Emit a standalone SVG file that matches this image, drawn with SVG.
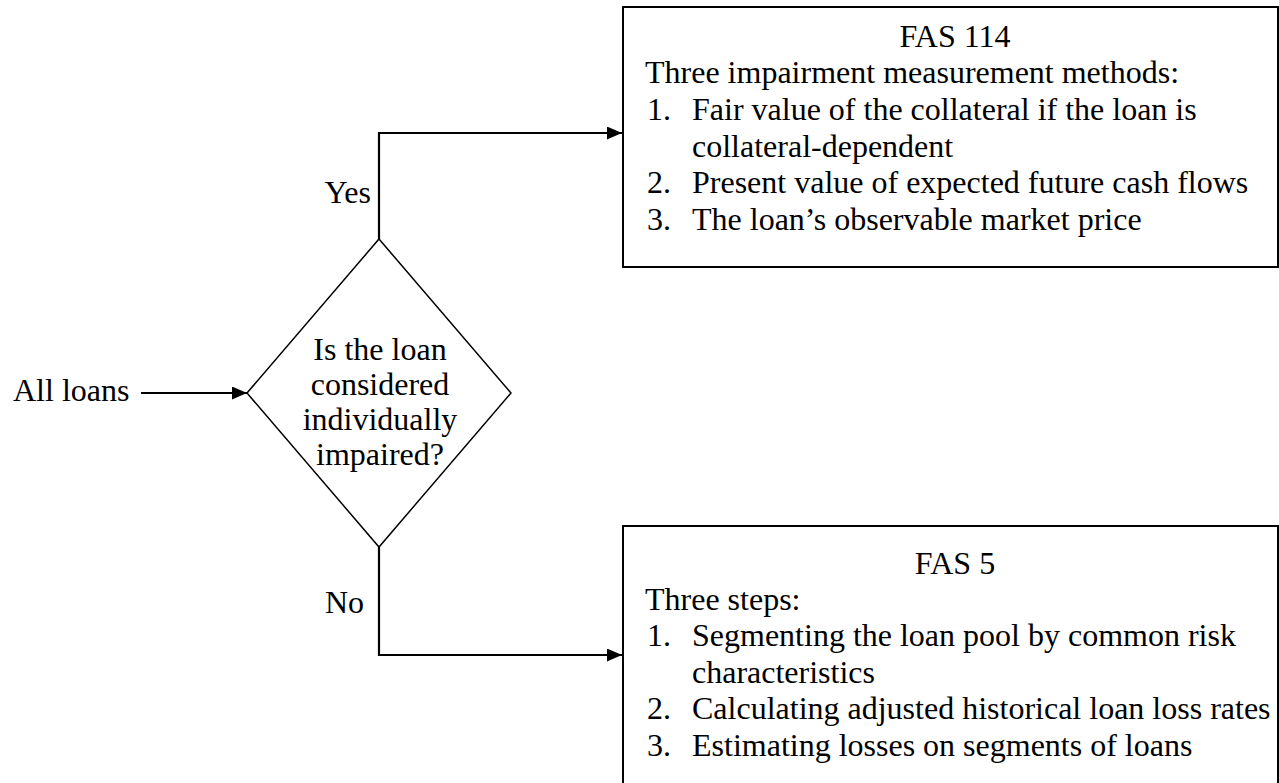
<svg xmlns="http://www.w3.org/2000/svg" width="1279" height="783" viewBox="0 0 1279 783">
<style>
text{font-family:"Liberation Serif","Times New Roman",serif;font-size:32px;fill:#000}
.c{text-anchor:middle}
.e{text-anchor:end}
.box{fill:#fff;stroke:#000;stroke-width:2}
.dia{fill:#fff;stroke:#000;stroke-width:1.5}
.conn{fill:none;stroke:#000;stroke-width:2.2}
</style>
<defs>
<marker id="ah" markerWidth="15" markerHeight="13" refX="15" refY="6.5" orient="auto" markerUnits="userSpaceOnUse">
<path d="M0,0 L15,6.5 L0,13 Z" fill="#000"/>
</marker>
</defs>
<rect width="1279" height="783" fill="#fff"/>
<g id="connectors">
<path class="conn" d="M141,393 L247,393" marker-end="url(#ah)"/>
<path class="conn" d="M379,239 L379,133 L622,133" marker-end="url(#ah)"/>
<path class="conn" d="M379,547 L379,655 L622,655" marker-end="url(#ah)"/>
</g>
<g id="start">
<text x="13" y="401">All loans</text>
</g>
<g id="decision">
<polygon class="dia" points="379,239 511,393 379,547 247,393"/>
<text class="c" x="380" y="360">Is the loan</text>
<text class="c" x="380" y="395">considered</text>
<text class="c" x="380" y="430">individually</text>
<text class="c" x="380" y="465">impaired?</text>
</g>
<g id="label-yes"><text class="e" x="371" y="203">Yes</text></g>
<g id="label-no"><text class="e" x="364" y="613">No</text></g>
<g id="fas114">
<rect class="box" x="623" y="7" width="655" height="260"/>
<text class="c" x="955" y="47">FAS 114</text>
<text x="645" y="83">Three impairment measurement methods:</text>
<text x="647" y="120">1.</text><text x="692" y="120">Fair value of the collateral if the loan is</text>
<text x="692" y="157">collateral-dependent</text>
<text x="647" y="193">2.</text><text x="692" y="193">Present value of expected future cash flows</text>
<text x="647" y="230">3.</text><text x="692" y="230">The loan’s observable market price</text>
</g>
<g id="fas5">
<path class="box" d="M623,790 L623,526 L1278,526 L1278,790"/>
<text class="c" x="955" y="574">FAS 5</text>
<text x="645" y="610">Three steps:</text>
<text x="647" y="646">1.</text><text x="692" y="646">Segmenting the loan pool by common risk</text>
<text x="692" y="683">characteristics</text>
<text x="647" y="719">2.</text><text x="692" y="719">Calculating adjusted historical loan loss rates</text>
<text x="647" y="756">3.</text><text x="692" y="756">Estimating losses on segments of loans</text>
</g>
</svg>
